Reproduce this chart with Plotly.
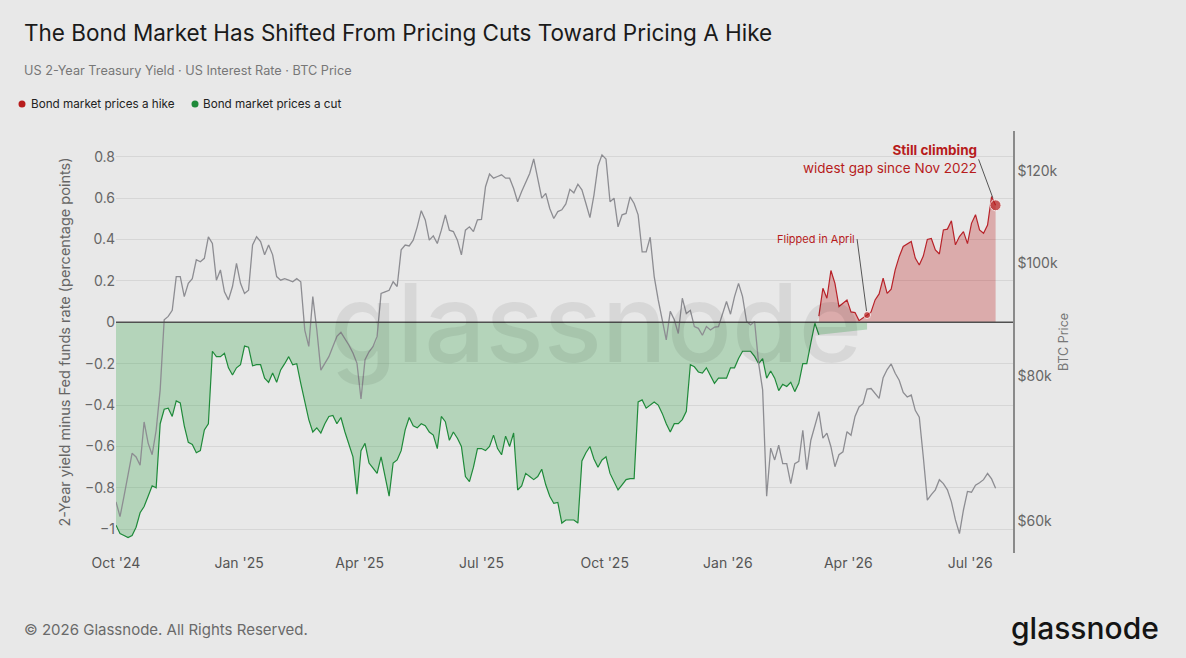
import plotly.graph_objects as go
import pandas as pd

# readings taken every 3 days, Oct 2024 -> late Jul 2026
dates = pd.date_range("2024-10-01", periods=220, freq="3D")

# 2-year yield minus Fed funds rate while negative (bond market prices a cut)
cut = [
    -0.98, -1.02, -1.03, -1.04, -1.03, -0.99, -0.92, -0.89, -0.84, -0.79,
    -0.80, -0.49, -0.42, -0.415, -0.455, -0.38, -0.39, -0.50, -0.58, -0.59,
    -0.63, -0.62, -0.52, -0.49, -0.14, -0.166, -0.166, -0.15, -0.22, -0.255,
    -0.22, -0.205, -0.115, -0.12, -0.21, -0.205, -0.205, -0.27, -0.29, -0.245,
    -0.29, -0.23, -0.20, -0.166, -0.205, -0.20, -0.295, -0.375, -0.47, -0.53,
    -0.51, -0.535, -0.49, -0.455, -0.45, -0.49, -0.46, -0.53, -0.59, -0.65,
    -0.83, -0.62, -0.585, -0.68, -0.705, -0.73, -0.65, -0.75, -0.84, -0.68,
    -0.665, -0.62, -0.52, -0.46, -0.50, -0.51, -0.49, -0.50, -0.53, -0.545,
    -0.61, -0.455, -0.48, -0.57, -0.53, -0.56, -0.60, -0.745, -0.77, -0.70,
    -0.61, -0.61, -0.62, -0.60, -0.545, -0.61, -0.64, -0.55, -0.60, -0.535,
    -0.81, -0.79, -0.73, -0.745, -0.76, -0.745, -0.71, -0.785, -0.84, -0.875,
    -0.87, -0.97, -0.955, -0.955, -0.955, -0.97, -0.67, -0.63, -0.60, -0.66,
    -0.70, -0.665, -0.65, -0.73, -0.77, -0.81, -0.785, -0.76, -0.755, -0.755,
    -0.385, -0.375, -0.415, -0.40, -0.385, -0.40, -0.44, -0.49, -0.53, -0.49,
    -0.49, -0.47, -0.43, -0.205, -0.215, -0.24, -0.245, -0.22, -0.26, -0.295,
    -0.27, -0.27, -0.27, -0.22, -0.22, -0.175, -0.14, -0.14, -0.14, -0.165,
    -0.20, -0.175, -0.27, -0.235, -0.27, -0.33, -0.30, -0.31, -0.29, -0.335,
    -0.295, -0.20, -0.20, -0.10, -0.005, -0.06,
] + [None] * 11 + [-0.035] + [None] * 32

# same spread while positive (bond market prices a hike)
hike = [None] * 175 + [
    0.03, 0.164, 0.116, 0.25, 0.188, 0.076, 0.092, 0.108, 0.05, 0.047,
    0.008, 0.02, 0.035, 0.05, 0.108, 0.137, 0.213, 0.14, 0.16, 0.253,
    0.317, 0.366, 0.38, 0.39, 0.31, 0.277, 0.32, 0.40, 0.405, 0.35,
    0.33, 0.446, 0.45, 0.49, 0.374, 0.414, 0.438, 0.38, 0.478, 0.52,
    0.446, 0.43, 0.47, 0.607, 0.565,
]

# BTC price, thousands of USD
btc_k = [
    62.3, 60.5, 63.0, 65.5, 68.6, 68.1, 67.0, 73.0, 70.0, 68.4,
    71.8, 77.8, 89.4, 90.0, 91.1, 97.4, 97.4, 93.6, 96.1, 97.0,
    100.7, 100.3, 101.0, 105.4, 104.0, 96.7, 98.7, 94.5, 93.0, 95.5,
    100.0, 96.1, 94.2, 94.8, 103.7, 105.4, 104.4, 101.7, 103.7, 101.7,
    97.4, 96.7, 97.0, 96.7, 96.4, 97.0, 96.4, 87.6, 84.8, 93.6,
    87.6, 80.9, 82.0, 83.1, 84.8, 86.5, 87.2, 86.2, 85.0, 83.7,
    82.0, 76.4, 82.6, 83.9, 84.8, 86.5, 94.2, 94.5, 94.8, 96.4,
    95.5, 102.7, 103.7, 103.5, 104.7, 107.5, 111.0, 109.0, 104.7, 105.6,
    104.0, 106.8, 110.1, 106.8, 106.5, 104.7, 101.7, 106.8, 107.5, 106.5,
    109.0, 109.1, 116.4, 119.4, 118.4, 118.8, 119.2, 118.4, 118.4, 116.0,
    113.0, 115.3, 117.2, 119.5, 123.0, 118.0, 113.8, 114.9, 111.5, 109.3,
    110.8, 111.2, 112.5, 115.8, 115.0, 117.0, 115.7, 112.6, 109.5, 114.5,
    121.3, 124.0, 123.0, 113.0, 113.8, 107.5, 110.1, 110.4, 114.1, 112.6,
    110.1, 102.3, 102.3, 105.3, 97.4, 93.0, 89.4, 85.9, 90.9, 89.4,
    87.0, 93.3, 90.5, 91.1, 88.2, 87.9, 86.7, 88.2, 87.6, 88.1,
    88.2, 90.5, 92.7, 90.4, 93.6, 96.1, 93.6, 89.1, 88.5, 89.1,
    82.0, 77.8, 63.0, 69.3, 67.7, 69.7, 67.2, 67.2, 64.6, 67.2,
    67.5, 71.8, 66.4, 70.4, 72.6, 74.5, 70.7, 71.4, 69.5, 66.8,
    68.4, 68.8, 71.6, 71.1, 73.8, 75.2, 75.7, 77.9, 78.0, 77.3,
    76.5, 79.7, 81.0, 81.9, 80.4, 79.3, 77.4, 76.7, 77.0, 74.7,
    73.7, 68.1, 62.5, 63.2, 63.8, 65.1, 64.6, 63.8, 62.3, 60.1,
    58.5, 61.3, 63.6, 63.5, 64.4, 64.7, 65.1, 65.9, 65.2, 64.0,
]

x_tickvals = ["2024-10-01", "2025-01-01", "2025-04-01", "2025-07-01",
              "2025-10-01", "2026-01-01", "2026-04-01", "2026-07-01"]
x_ticktext = ["Oct '24", "Jan '25", "Apr '25", "Jul '25",
              "Oct '25", "Jan '26", "Apr '26", "Jul '26"]
btc_tickvals = [60000, 80000, 100000, 120000]
btc_ticktext = ["$60k", "$80k", "$100k", "$120k"]

flip_idx = 187   # "Flipped in April"
last_idx = 219   # latest reading

FONT = "Inter"
RED = "#b71c1c"
GREEN_LINE = "#1f8a3a"

# plot area sits at x 116..1013, y 131..553 of the 1186x658 page
L, R, T, B = 116, 173, 131, 105
PW, PH = 1186 - L - R, 658 - T - B


def px(x):
    return (x - L) / PW


def py(y):
    return (658 - B - y) / PH


fig = go.Figure()

# green fill (gaps bridged, which gives the wedge before the flip)
fig.add_trace(go.Scatter(x=dates, y=cut, mode="lines", fill="tozeroy",
                         connectgaps=True, line=dict(width=0),
                         fillcolor="rgba(46,160,67,0.28)", hoverinfo="skip"))
fig.add_trace(go.Scatter(x=dates, y=cut, mode="lines", connectgaps=False,
                         line=dict(color=GREEN_LINE, width=1.2)))
fig.add_trace(go.Scatter(x=dates, y=hike, mode="lines", fill="tozeroy",
                         line=dict(color="#b8232a", width=1.2),
                         fillcolor="rgba(190,30,30,0.30)"))
fig.add_trace(go.Scatter(x=[dates[flip_idx], dates[last_idx]],
                         y=[hike[flip_idx], hike[last_idx]], mode="markers",
                         marker=dict(color=RED, size=[7, 11])))
fig.add_trace(go.Scatter(x=dates, y=[v * 1000 for v in btc_k], mode="lines",
                         yaxis="y2", line=dict(color="#8d8d92", width=1.3)))

annotations = [
    dict(text="The Bond Market Has Shifted From Pricing Cuts Toward Pricing A Hike",
         x=px(22), y=py(32), xanchor="left", yanchor="middle",
         font=dict(size=22.5, color="#1a1a1a")),
    dict(text="US 2-Year Treasury Yield · US Interest Rate · BTC Price",
         x=px(22), y=py(70), xanchor="left", yanchor="middle",
         font=dict(size=12.7, color="#777777")),
    dict(text="Bond market prices a hike", x=px(29), y=py(104),
         xanchor="left", yanchor="middle", font=dict(size=11.7, color="#222222")),
    dict(text="Bond market prices a cut", x=px(201), y=py(104),
         xanchor="left", yanchor="middle", font=dict(size=11.7, color="#222222")),
    dict(text="© 2026 Glassnode. All Rights Reserved.", x=px(22), y=py(629),
         xanchor="left", yanchor="middle", font=dict(size=15, color="#6a6a6a")),
    dict(text="glassnode", x=px(1161), y=py(628), xanchor="right",
         yanchor="middle", font=dict(size=30, color="#141414", weight=500)),
    # watermark
    dict(text="glassnode", x=px(596), y=py(322), xanchor="center",
         yanchor="middle", font=dict(size=108, color="rgba(0,0,0,0.07)", weight=500)),
]
for a in annotations:
    a.update(xref="paper", yref="paper", showarrow=False)

# callouts pointing at the data
annotations.append(dict(
    x=dates[flip_idx], y=hike[flip_idx], xref="x", yref="y",
    text="Flipped in April", font=dict(size=11, color=RED),
    showarrow=True, arrowhead=0, arrowwidth=1, arrowcolor="#555555",
    ax=-10, ay=-76, xanchor="right", yanchor="middle", standoff=4))
annotations.append(dict(
    x=dates[last_idx], y=hike[last_idx], xref="x", yref="y",
    text="<b>Still climbing</b><br>widest gap since Nov 2022",
    align="right", font=dict(size=13.5, color=RED),
    showarrow=True, arrowhead=0, arrowwidth=1, arrowcolor="#555555",
    ax=-17, ay=-46, xanchor="right", yanchor="middle", standoff=8))

shapes = [
    dict(type="line", xref="paper", x0=0, x1=1, yref="y", y0=0, y1=0,
         line=dict(color="#505050", width=1.5), layer="above"),
]
# legend dots
for cx, col in [(22, RED), (195, "#1f8a3a")]:
    shapes.append(dict(type="circle", xref="paper", yref="paper",
                       xsizemode="pixel", ysizemode="pixel",
                       xanchor=px(cx), yanchor=py(104),
                       x0=-3.5, x1=3.5, y0=-3.5, y1=3.5,
                       fillcolor=col, line=dict(width=0)))

fig.update_layout(
    width=1186, height=658,
    margin=dict(l=L, r=R, t=T, b=B),
    paper_bgcolor="#e8e8e8", plot_bgcolor="#e8e8e8",
    font=dict(family=FONT, color="#555555"),
    showlegend=False,
    annotations=annotations,
    shapes=shapes,
    xaxis=dict(type="date", range=["2024-10-01", "2026-08-02"],
               tickvals=x_tickvals, ticktext=x_ticktext,
               showgrid=False, zeroline=False, showline=False, ticks="",
               tickfont=dict(size=14, color="#555555"), automargin=False),
    yaxis=dict(range=[-1.1145, 0.924],
               tickvals=[-1, -0.8, -0.6, -0.4, -0.2, 0, 0.2, 0.4, 0.6, 0.8],
               showgrid=True, gridcolor="#d6d6d6", gridwidth=1,
               zeroline=False, showline=False, ticks="",
               tickfont=dict(size=14, color="#666666"),
               title=dict(text="2-Year yield minus Fed funds rate (percentage points)",
                          font=dict(size=14.5, color="#666666"), standoff=10),
               automargin=False),
    yaxis2=dict(overlaying="y", side="right", type="log",
                range=[4.7504, 5.1140],
                tickvals=btc_tickvals, ticktext=btc_ticktext,
                showgrid=False, zeroline=False,
                showline=True, linecolor="#8a8a8a", linewidth=1.5, ticks="",
                tickfont=dict(size=14, color="#666666"),
                title=dict(text="BTC Price", font=dict(size=12.5, color="#777777"),
                           standoff=2),
                automargin=False),
)

fig.write_html("out.html", config={"displayModeBar": False},
               post_script="document.body.style.margin='0';document.body.style.overflow='hidden';")
